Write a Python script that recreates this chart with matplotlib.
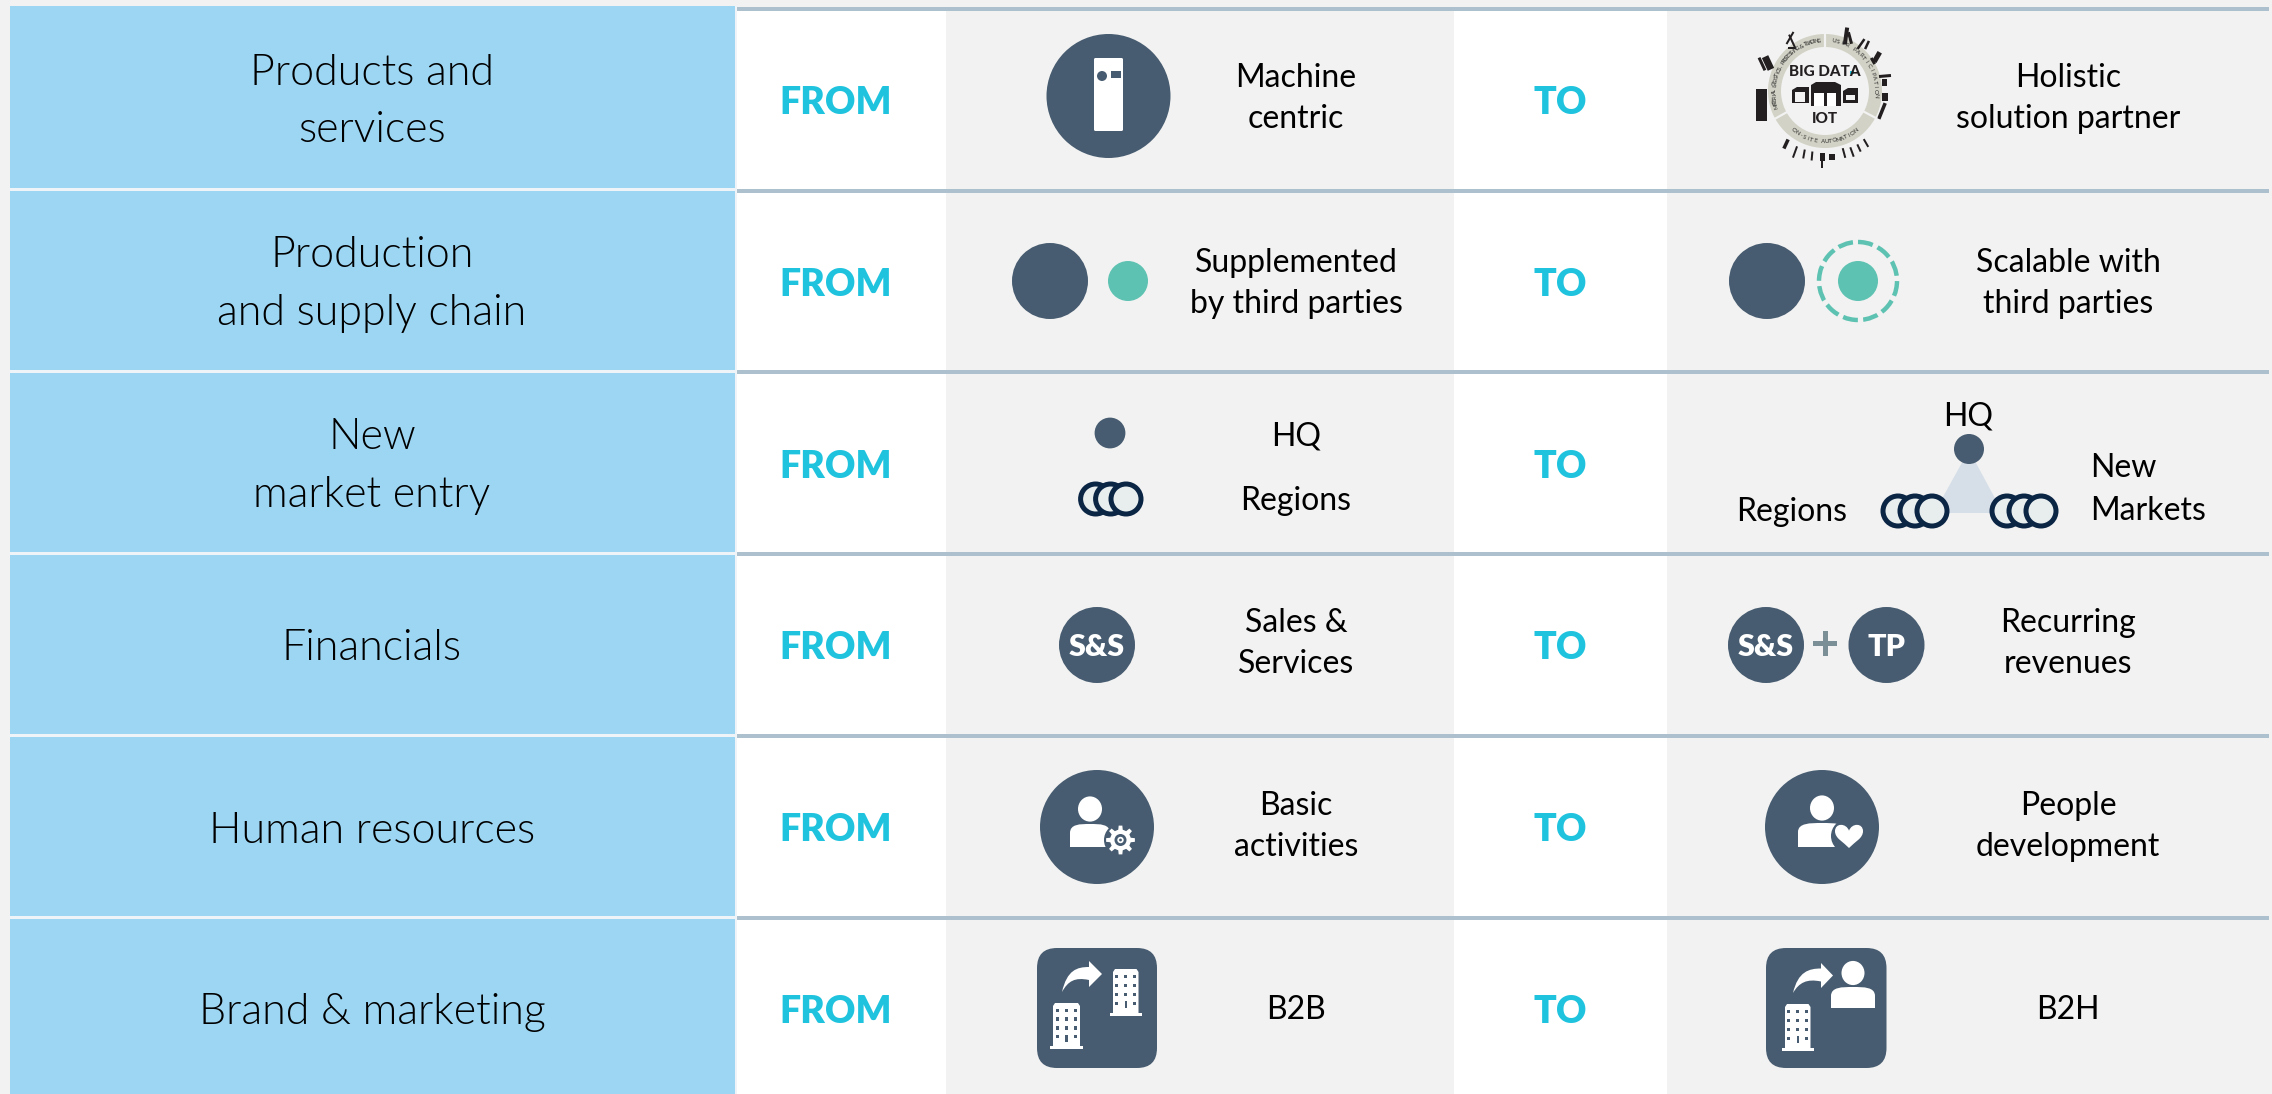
import numpy as np
import matplotlib
matplotlib.use("Agg")
import matplotlib.pyplot as plt
from matplotlib.patches import Circle, Ellipse, Rectangle, FancyBboxPatch, Polygon, PathPatch, Wedge
from matplotlib.path import Path
from matplotlib.transforms import Affine2D

# table content
row_labels = [["Products and", "services"], ["Production", "and supply chain"], ["New", "market entry"],
              ["Financials"], ["Human resources"], ["Brand & marketing"]]
from_labels = [["Machine", "centric"], ["Supplemented", "by third parties"], ["HQ", "Regions"],
               ["Sales &", "Services"], ["Basic", "activities"], ["B2B"]]
to_labels = [["Holistic", "solution partner"], ["Scalable with", "third parties"], None,
             ["Recurring", "revenues"], ["People", "development"], ["B2H"]]
from_word = "FROM"
to_word = "TO"
ring_texts = ["MATERIAL LOGISTICS, PROCESSING & TRADING", "USER PARTICIPATION", "ON-SITE AUTOMATION"]

BG = "#f2f2f2"
BLUE = "#9dd6f2"
LINE = "#adc0ce"
CYAN = "#1fc3de"
SLATE = "#475c70"
TEAL = "#5dc2b1"
NAVY = "#0b2545"
PALE = "#e8eeee"

plt.rcParams["font.family"] = ["Lato", "DejaVu Sans"]

fig = plt.figure(figsize=(22.72, 10.94), dpi=100, facecolor=BG)
ax = fig.add_axes([0, 0, 1, 1])
ax.set_xlim(0, 2272)
ax.set_ylim(1094, 0)
ax.set_axis_off()

row_mid = [100 + 181.8*i for i in range(6)]


def circle(x, y, r, color=SLATE, **kw):
    p = Circle((x, y), r, fc=color, ec="none", **kw)
    ax.add_patch(p)
    return p


def rings(x_list, y, r=15):
    for x in x_list:
        ax.add_patch(Circle((x, y), r, fc=PALE, ec=NAVY, lw=3.6))


def person(x, head_y, top, bottom, half_w, head_r=12):
    ax.add_patch(Ellipse((x, head_y), head_r*2, head_r*2.1, fc="white", ec="none"))
    verts = [(x-half_w, bottom), (x-half_w, top+9), (x-half_w, top), (x-half_w*0.5, top), (x, top),
             (x+half_w*0.5, top), (x+half_w, top), (x+half_w, top+9), (x+half_w, bottom), (x-half_w, bottom)]
    codes = [Path.MOVETO, Path.LINETO, Path.CURVE4, Path.CURVE4, Path.CURVE4, Path.CURVE4, Path.CURVE4, Path.CURVE4,
             Path.LINETO, Path.CLOSEPOLY]
    ax.add_patch(PathPatch(Path(verts, codes), fc="white", ec="none"))


def building(x0, x1, top, bottom):
    w = x1-x0
    ax.add_patch(Rectangle((x0, bottom-3), w, 3, fc="white", ec="none"))
    ax.add_patch(Polygon([(x0+3, bottom-3), (x0+3, top+3), (x0+5, top), (x1-5, top), (x1-3, top+3), (x1-3, bottom-3)],
                         fc="white", ec="none"))
    for i in range(4):
        for j in range(3):
            wx = x0+w*(0.22+0.28*j)
            wy = top+(bottom-top)*(0.16+0.19*i)
            if i == 3 and j == 1:
                ax.add_patch(Rectangle((wx-1.2, wy-2), 2.4, 7, fc=SLATE, ec="none"))
            else:
                ax.add_patch(Rectangle((wx-1.5, wy-1.8), 3, 3.6, fc=SLATE, ec="none"))


def curved_arrow(sx, sy, hx, tip, top, bottom):
    mid = (top+bottom)/2
    upper = mid-7
    lower = mid+6
    verts = [(sx, sy), (sx+5, upper+3), (hx-12, upper), (hx, upper),
             (hx, top), (tip, mid), (hx, bottom), (hx, lower),
             (hx-14, lower-3), (sx+6, lower+1), (sx, sy)]
    codes = [Path.MOVETO, Path.CURVE4, Path.CURVE4, Path.CURVE4,
             Path.LINETO, Path.LINETO, Path.LINETO, Path.LINETO,
             Path.CURVE4, Path.CURVE4, Path.CURVE4]
    ax.add_patch(PathPatch(Path(verts, codes), fc="white", ec="none"))


def gear(x, y, r_out, r_in, teeth=8):
    pts = []
    for i in range(teeth):
        a = 2*np.pi*i/teeth
        d = np.pi/teeth
        for da, r in [(-0.55*d, r_in), (-0.32*d, r_out), (0.32*d, r_out), (0.55*d, r_in)]:
            pts.append((x+r*np.cos(a+da), y+r*np.sin(a+da)))
    ax.add_patch(Polygon(pts, fc="white", ec="none"))
    circle(x, y, 6)
    circle(x, y, 3.2, "white")
    circle(x, y, 1.4)


def heart(x, y, w, h):
    verts = [(x, y+h/2), (x-w*0.2, y+h*0.25), (x-w/2, y+h*0.1), (x-w/2, y-h*0.2),
             (x-w/2, y-h*0.55), (x-w*0.1, y-h*0.55), (x, y-h*0.22),
             (x+w*0.1, y-h*0.55), (x+w/2, y-h*0.55), (x+w/2, y-h*0.2),
             (x+w/2, y+h*0.1), (x+w*0.2, y+h*0.25), (x, y+h/2)]
    codes = [Path.MOVETO]+[Path.CURVE4]*12
    ax.add_patch(PathPatch(Path(verts, codes), fc="white", ec="none"))


def arc_text(s, cx, cy, r, a0, a1, size=4.4, flip=False):
    # visual angles in degrees, one glyph at a time
    angles = np.linspace(a0, a1, len(s))
    for ch, a in zip(s, angles):
        rad = np.deg2rad(a)
        x = cx+r*np.cos(rad)
        y = cy-r*np.sin(rad)
        rot = a+90 if flip else a-90
        ax.text(x, y, ch, fontsize=size, rotation=rot, ha="center", va="center", color="#303030",
                rotation_mode="anchor")


def big_data(cx, cy):
    ax.add_patch(Wedge((cx, cy), 57, 0, 360, width=13, fc="#d2d2c6", ec="none"))
    for a in [90, -28, 209]:
        rad = np.deg2rad(a)
        ax.plot([cx+43*np.cos(rad), cx+58*np.cos(rad)], [cy-43*np.sin(rad), cy-58*np.sin(rad)], color=BG, lw=1.6)
    arc_text(ring_texts[0], cx, cy, 50.5, 197, 97)
    arc_text(ring_texts[1], cx, cy, 50.5, 80, -5)
    arc_text(ring_texts[2], cx, cy, 50.5, 232, 308, flip=True)
    dark = "#231f20"
    ax.text(cx, cy-19, "BIG DATA", fontsize=11, fontweight="black", ha="center", va="center", color=dark)
    ax.text(cx, cy+28, "IOT", fontsize=11, fontweight="black", ha="center", va="center", color=dark)
    # factory block
    ax.add_patch(Polygon([(cx-14, cy+15), (cx-14, cy-6), (cx-9, cy-9), (cx+10, cy-9), (cx+16, cy-6), (cx+16, cy+15)], fc=dark, ec="none"))
    ax.add_patch(Rectangle((cx-11, cy+2), 10, 13, fc="white", ec="none"))
    ax.add_patch(Rectangle((cx+2, cy+2), 9, 13, fc="white", ec="none"))
    ax.add_patch(Polygon([(cx-33, cy+12), (cx-33, cy-1), (cx-28, cy-4), (cx-16, cy-4), (cx-16, cy+12)], fc=dark, ec="none"))
    ax.add_patch(Rectangle((cx-30, cy+1), 10, 10, fc=BG, ec="none"))
    ax.add_patch(Polygon([(cx+18, cy+12), (cx+18, cy), (cx+23, cy-3), (cx+33, cy-3), (cx+33, cy+12)], fc=dark, ec="none"))
    ax.add_patch(Rectangle((cx+21, cy+4), 9, 5, fc=BG, ec="none"))
    # silhouettes round the ring, (dx, dy, w, h, angle)
    shapes = [(21, -55, 4, 17, 8), (25, -53, 3, 12, -15), (36, -47, 2.5, 12, 35), (42, -46, 2.5, 9, 25),
              (52, -34, 5, 11, 30), (48, -30, 3, 7, -30), (60, -15, 12, 3, -5), (59, -9, 5, 7, 0),
              (60, 6, 6, 8, 0), (57, 20, 3.5, 17, 22), (-39, 53, 3.5, 10, 25), (-30, 61, 2, 12, 20),
              (-21, 63, 2, 9, 10), (-13, 65, 2, 9, 5), (-3, 66, 5, 8, 0), (-3, 72, 1.5, 10, 0), (7, 66, 6, 6, 0),
              (19, 62, 2, 10, -15), (27, 61, 2, 10, -20), (34, 57, 2, 8, -25), (41, 52, 2, 9, -30),
              (-64, 14, 11, 32, 0), (-57, -28, 7, 14, -25), (-63, -27, 3, 14, -25),
              (-35, -53, 2, 14, 30), (-33, -50, 2, 14, -25), (-33, -43, 8, 2, 0)]
    for dx, dy, w, h, rot in shapes:
        ax.add_patch(Rectangle((cx+dx-w/2, cy+dy-h/2), w, h, fc=dark, ec="none",
                               transform=Affine2D().rotate_deg_around(cx+dx, cy+dy, rot)+ax.transData))
    ax.add_patch(Rectangle((cx+25, cy-20), 4, 3, fc=CYAN, ec="none"))


# left column and white / grey bands
blue_tops = [6, 191, 373, 555, 737, 919]
blue_bottoms = [188, 370, 552, 734, 916, 1094]
for i in range(6):
    ax.add_patch(Rectangle((10, blue_tops[i]), 725, blue_bottoms[i]-blue_tops[i], fc=BLUE, ec="none"))
    if i < 5:
        ax.add_patch(Rectangle((10, blue_bottoms[i]), 725, blue_tops[i+1]-blue_bottoms[i], fc="#eef4f8", ec="none"))
ax.add_patch(Rectangle((735, 6), 3, 1088, fc="#eef4f8", ec="none"))
ax.add_patch(Rectangle((737, 9), 209, 1085, fc="white", ec="none"))
ax.add_patch(Rectangle((1454, 9), 213, 1085, fc="white", ec="none"))
for y in [9, 190.5, 372, 554, 736, 918]:
    ax.add_patch(Rectangle((737, y-2), 1532, 4, fc=LINE, ec="none"))

# left labels
label_base = [[85, 142], [267, 325], [449, 507], [660], [843], [1024]]
for lines, base in zip(row_labels, label_base):
    for s, y in zip(lines, base):
        ax.text(372, y, s, fontsize=31, fontweight=300, ha="center", va="baseline", color="black")

# FROM / TO
for y in row_mid:
    ax.text(836, y, from_word, fontsize=27, fontweight="heavy", color=CYAN, ha="center", va="center_baseline")
    ax.text(1560, y, to_word, fontsize=27, fontweight="heavy", color=CYAN, ha="center", va="center_baseline")

# descriptions
from_base = [[87, 128], [272, 313], [445, 510], [632, 673], [815, 856], [1019]]
to_base = [[87, 128], [272, 313], None, [632, 673], [815, 856], [1019]]
for lines, base in zip(from_labels, from_base):
    for s, y in zip(lines, base):
        ax.text(1296, y, s, fontsize=23, ha="center", va="baseline", color="black")
for lines, base in zip(to_labels, to_base):
    if lines is None:
        continue
    for s, y in zip(lines, base):
        ax.text(2068, y, s, fontsize=23, ha="center", va="baseline", color="black")
ax.text(1968, 425, "HQ", fontsize=23, ha="center", va="baseline", color="black")
ax.text(1792, 521, "Regions", fontsize=23, ha="center", va="baseline", color="black")
ax.text(2090, 477, "New", fontsize=23, ha="left", va="baseline", color="black")
ax.text(2090, 520, "Markets", fontsize=23, ha="left", va="baseline", color="black")

# row 0 icons
circle(1108.5, 96, 62)
ax.add_patch(FancyBboxPatch((1094, 58), 29, 73, boxstyle="round,pad=0,rounding_size=1.5", fc="white", ec="none"))
circle(1102, 76, 5)
ax.add_patch(Rectangle((1111, 71), 10, 7, fc=SLATE, ec="none"))
big_data(1825, 91)

# row 1 icons
circle(1050, 281, 38)
circle(1128, 281, 20, TEAL)
circle(1767, 281, 38)
circle(1858, 281, 20, TEAL)
ax.add_patch(Circle((1858, 281), 39, fc="none", ec=TEAL, lw=3.2, linestyle=(0, (3.4, 1.2))))

# row 2 icons
circle(1110, 433, 15.4)
rings([1095.6, 1110.6, 1126], 499)
ax.add_patch(Polygon([(1969, 450), (1934, 513), (2003, 513)], fc="#d6dfe8", ec="none"))
circle(1969, 449, 15)
rings([1898, 1915, 1932], 511)
rings([2007, 2024, 2041], 511)

# row 3 icons
circle(1097, 645, 38)
ax.text(1097, 645, "S&S", fontsize=22, fontweight="heavy", color="white", ha="center", va="center_baseline")
circle(1766, 645, 38)
ax.text(1766, 645, "S&S", fontsize=22, fontweight="heavy", color="white", ha="center", va="center_baseline")
ax.add_patch(Rectangle((1813, 641), 24, 5, fc="#7a9096", ec="none"))
ax.add_patch(Rectangle((1822.5, 631), 5, 25, fc="#7a9096", ec="none"))
circle(1886.5, 645, 38)
ax.text(1886.5, 645, "TP", fontsize=22, fontweight="heavy", color="white", ha="center", va="center_baseline")

# row 4 icons
circle(1097, 827, 57)
person(1090, 809, 824, 847, 20)
circle(1120.5, 840, 16.5)
gear(1120.5, 840, 14.5, 10.5)
circle(1822, 827, 57)
person(1822, 808, 823, 847, 24)
circle(1848, 836, 17)
heart(1849, 836, 28, 24)

# row 5 icons
ax.add_patch(FancyBboxPatch((1037, 948), 120, 120, boxstyle="round,pad=0,rounding_size=20", fc=SLATE, ec="none"))
building(1050, 1083, 1003, 1049)
building(1110, 1141.5, 969, 1016)
curved_arrow(1062, 992, 1089, 1102, 961, 987)
ax.add_patch(FancyBboxPatch((1766, 948), 120.5, 120, boxstyle="round,pad=0,rounding_size=20", fc=SLATE, ec="none"))
building(1782, 1813.5, 1004, 1051)
curved_arrow(1793, 993, 1821, 1833, 963, 988)
person(1853, 973, 987, 1008, 22, head_r=11.5)

fig.savefig("out.png", dpi=100, facecolor=BG)
